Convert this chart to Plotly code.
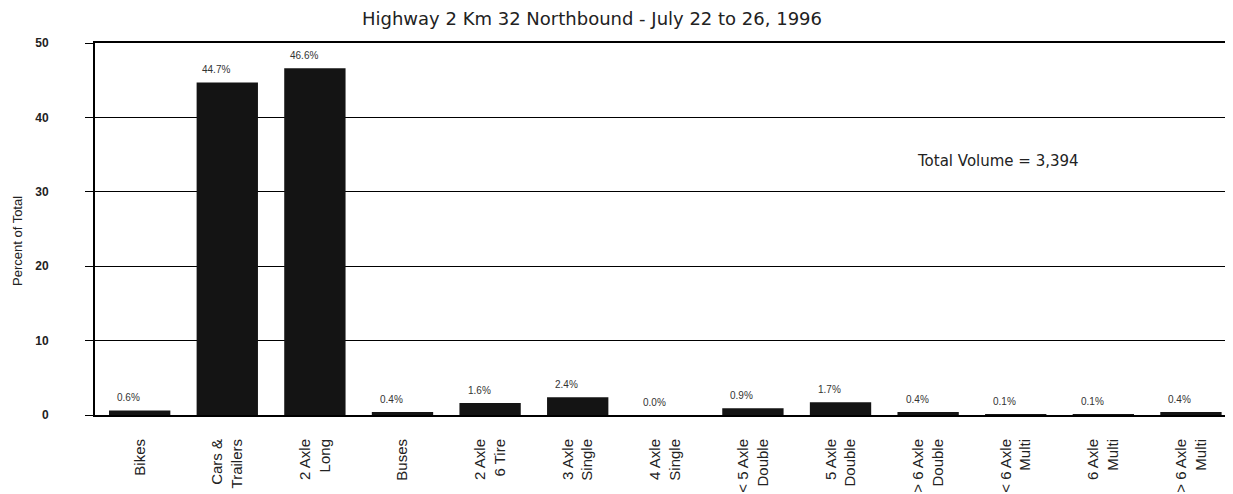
import plotly.graph_objects as go

# Vehicle classes and their share of total traffic (percent).
classes = ["Bikes", "Cars &<br>Trailers", "2 Axle<br>Long", "Buses",
           "2 Axle<br>6 Tire", "3 Axle<br>Single", "4 Axle<br>Single",
           "< 5 Axle<br>Double", "5 Axle<br>Double", "> 6 Axle<br>Double",
           "< 6 Axle<br>Multi", "6 Axle<br>Multi", "> 6 Axle<br>Multi"]
percent = [0.6, 44.7, 46.6, 0.4, 1.6, 2.4, 0.0, 0.9, 1.7, 0.4, 0.1, 0.1, 0.4]
y_ticks = [0, 10, 20, 30, 40, 50]

title = "Highway 2 Km 32 Northbound - July 22 to 26, 1996"
total_note = "Total Volume = 3,394"

WIDE = "DejaVu Sans, Verdana, sans-serif"
ARIAL = "Liberation Sans, Arial, sans-serif"

# the page body adds an 8px offset, margins account for it
L, T, B, R = 87, 35, 87, 8
plot_w = 1233 - L - R
plot_h = 494 - T - B

fig = go.Figure(go.Bar(x=list(range(len(classes))), y=percent,
                       marker_color="#141414", marker_line_width=0,
                       width=0.7))

# Percentage labels sit just above each bar, nudged left.
for i, p in enumerate(percent):
    fig.add_annotation(x=i, y=p, text=f"{p:.1f}%", showarrow=False,
                       yshift=13, xshift=-11,
                       font=dict(family=ARIAL, size=10, color="#333"))

fig.add_annotation(x=(907 - L) / plot_w, y=(407 - 153) / plot_h,
                   xref="paper", yref="paper", text=total_note,
                   showarrow=False, xanchor="left", yanchor="middle",
                   font=dict(family=WIDE, size=15, color="#222"))

# y-axis title sits a little below the middle of the axis
fig.add_annotation(x=(9 - L) / plot_w, y=(407 - 233) / plot_h,
                   xref="paper", yref="paper", text="Percent of Total",
                   textangle=-90, showarrow=False,
                   xanchor="center", yanchor="middle",
                   font=dict(family=ARIAL, size=13, color="#222"))

fig.update_layout(
    width=1233, height=494,
    margin=dict(l=L, r=R, t=T, b=B),
    paper_bgcolor="white", plot_bgcolor="white",
    font=dict(family=ARIAL, color="#222"),
    title=dict(text=title, x=584 / 1233, xanchor="center", y=1 - 4 / 494,
               yanchor="top", pad=dict(t=0),
               font=dict(family=WIDE, size=18, color="#222")),
    showlegend=False,
)
fig.update_xaxes(
    tickmode="array", tickvals=list(range(len(classes))), ticktext=classes,
    tickangle=-90, range=[-0.51, 12.48], showgrid=False, automargin=False,
    showline=True, linecolor="black", linewidth=2, mirror=True,
    ticks="", ticklabelstandoff=16,
    tickfont=dict(family=ARIAL, size=15, color="#222"),
)
fig.update_yaxes(
    range=[0, 50], tickvals=y_ticks, showgrid=True, gridcolor="black",
    gridwidth=1, showline=True, linecolor="black", linewidth=2,
    ticks="outside", ticklen=8, tickcolor="black", tickwidth=1,
    ticklabelstandoff=34, zeroline=False, automargin=False,
    tickfont=dict(family=ARIAL, size=12, color="#222", weight="bold"),
)

fig.write_html("out.html")
